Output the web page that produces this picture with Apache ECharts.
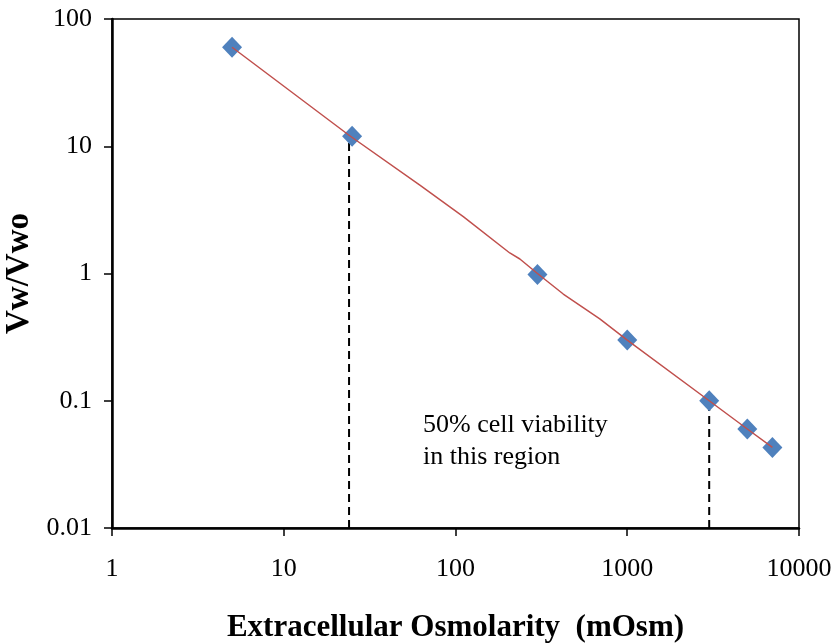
<!DOCTYPE html>
<html>
<head>
<meta charset="utf-8">
<script src="https://cdn.jsdelivr.net/npm/echarts@6/dist/echarts.min.js"></script>
<style>
  html, body { margin: 0; padding: 0; background: #fff; }
  #chart { width: 838px; height: 643px; }
</style>
</head>
<body>
<div id="chart"></div>
<script>
// Measured points: extracellular osmolarity (mOsm) vs relative water volume
const osmolarity = [5, 25, 300, 1000, 3000, 5000, 7000];
const volumeRatio = [60, 12, 0.98, 0.3, 0.1, 0.06, 0.043];

// Model curve (Boyle–van't Hoff behaviour)
const curveX = [5, 24, 62, 111, 207, 237, 300, 424, 554, 692, 1000, 3000, 5000, 7000];
const curveY = [60, 12.2, 4.95, 2.8, 1.45, 1.3, 1.0, 0.69, 0.54, 0.44, 0.3, 0.1, 0.06, 0.043];

// Boundaries of the 50% viability region
const lowerBoundX = [24, 24];
const lowerBoundY = [0.01, 11.6];
const upperBoundX = [3000, 3000];
const upperBoundY = [0.01, 0.1];

const xTickValues = [1, 10, 100, 1000, 10000];
const xTickLabels = ['1', '10', '100', '1000', '10000'];
const yTickValues = [0.01, 0.1, 1, 10, 100];
const yTickLabels = ['0.01', '0.1', '1', '10', '100'];

const regionText = ['50% cell viability', 'in this region'];

const FONT = '"Liberation Serif", "Times New Roman", serif';

function zip(a, b) { return a.map((v, i) => [v, b[i]]); }
function tickLabel(values, labels) {
  return function (v) {
    for (let i = 0; i < values.length; i++) {
      if (Math.abs(Math.log10(v) - Math.log10(values[i])) < 1e-6) return labels[i];
    }
    return '';
  };
}

const chart = echarts.init(document.getElementById('chart'), null, { renderer: 'canvas' });

chart.setOption({
  animation: false,
  backgroundColor: '#ffffff',
  grid: {
    left: 112, right: 39, top: 19, bottom: 115,
    outerBoundsMode: 'none', containLabel: false,
    show: true, borderColor: '#000', borderWidth: 1.5, backgroundColor: 'transparent'
  },
  xAxis: {
    type: 'log', logBase: 10, min: 1, max: 10000,
    name: 'Extracellular Osmolarity  (mOsm)',
    nameLocation: 'middle', nameGap: 84,
    nameTextStyle: { fontFamily: FONT, fontSize: 31, fontWeight: 'bold', color: '#000' },
    axisLine: { onZero: false, lineStyle: { color: '#000', width: 2.5 } },
    axisTick: { show: true, inside: false, length: 8, lineStyle: { color: '#000', width: 1.5 } },
    minorTick: { show: false },
    splitLine: { show: false },
    axisLabel: {
      margin: 28, fontFamily: FONT, fontSize: 26, color: '#000',
      formatter: tickLabel(xTickValues, xTickLabels)
    }
  },
  yAxis: {
    type: 'log', logBase: 10, min: 0.01, max: 100,
    name: 'Vw/Vwo',
    nameLocation: 'middle', nameGap: 70, nameRotate: 90,
    nameTextStyle: { fontFamily: FONT, fontSize: 33, fontWeight: 'bold', color: '#000' },
    axisLine: { onZero: false, lineStyle: { color: '#000', width: 2.5 } },
    axisTick: { show: true, inside: false, length: 8, lineStyle: { color: '#000', width: 1.5 } },
    splitLine: { show: false },
    axisLabel: {
      margin: 20, fontFamily: FONT, fontSize: 26, color: '#000',
      formatter: tickLabel(yTickValues, yTickLabels)
    }
  },
  series: [
    {
      type: 'line', name: 'lower bound', data: zip(lowerBoundX, lowerBoundY),
      symbol: 'none', silent: true, z: 2,
      lineStyle: { color: '#000', width: 2, type: [8, 5] }
    },
    {
      type: 'line', name: 'upper bound', data: zip(upperBoundX, upperBoundY),
      symbol: 'none', silent: true, z: 2,
      lineStyle: { color: '#000', width: 2, type: [8, 5] }
    },
    {
      type: 'scatter', name: 'Vw/Vwo', data: zip(osmolarity, volumeRatio),
      symbol: 'diamond', symbolSize: [20, 21], z: 3,
      itemStyle: { color: '#4F81BD', opacity: 1 }
    },
    {
      type: 'line', name: 'model', data: zip(curveX, curveY),
      symbol: 'none', smooth: false, z: 4,
      lineStyle: { color: '#C0504D', width: 1.5 }
    }
  ],
  graphic: [
    {
      type: 'text', x: 423, y: 441, z: 10,
      style: {
        text: regionText.join('\n'),
        font: '26px ' + FONT, fill: '#000',
        lineHeight: 32, verticalAlign: 'middle', align: 'left'
      }
    }
  ]
});
</script>
</body>
</html>
